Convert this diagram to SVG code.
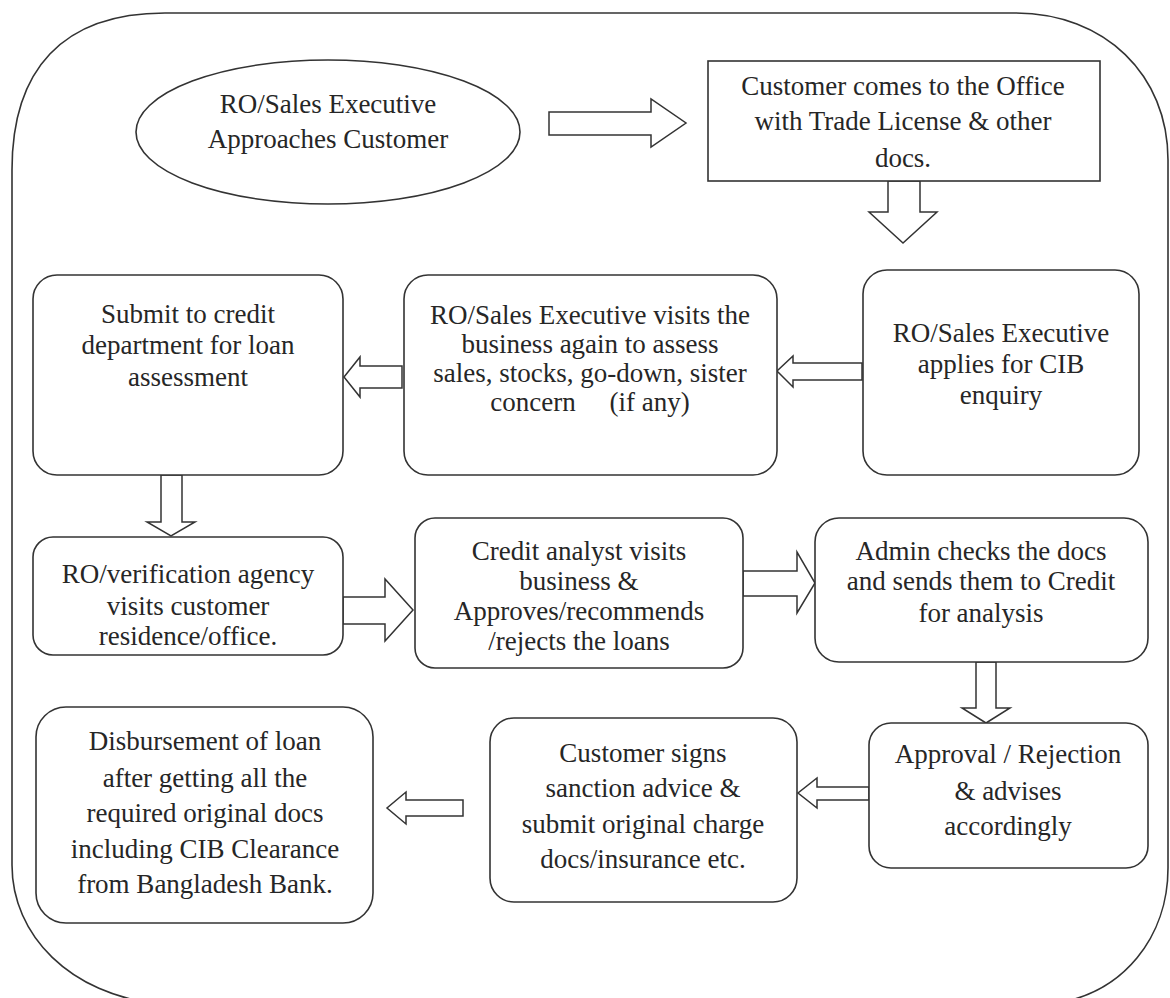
<svg xmlns="http://www.w3.org/2000/svg" width="1170" height="998" viewBox="0 0 1170 998">
<style>
.frame{fill:none;stroke:#333;stroke-width:1.6}
.box{fill:#fff;stroke:#333;stroke-width:1.6}
.arr{fill:#fff;stroke:#333;stroke-width:1.5;stroke-linejoin:miter}
text{font-family:"Liberation Serif","Times New Roman",serif;font-size:27px;fill:#262626;text-anchor:middle}
</style>
<rect width="1170" height="998" fill="#fff"/>
<path class="frame" d="M12,170 C12,70 62,13 165,13 L1015,13 C1105,13 1168,75 1168,160 L1168,868 C1168,935 1125,995 1050,1004 L160,1004 C70,995 12,935 12,865 Z"/>
<g id="connectors">
<polygon class="arr" points="549,112 651,112 651,99 686,123 651,147 651,135 549,135"/>
<polygon class="arr" points="888,181 920,181 920,212 937,212 903,243 869,212 888,212"/>
<polygon class="arr" points="862,363 793,363 793,356 777,371 793,387 793,380 862,380"/>
<polygon class="arr" points="402,366 360,366 360,357 344,377 360,397 360,388 402,388"/>
<polygon class="arr" points="161,475 182,475 182,522 195,522 171,536 147,522 161,522"/>
<polygon class="arr" points="343,597 385,597 385,579 413,610 385,641 385,624 343,624"/>
<polygon class="arr" points="743,571 797,571 797,552 815,583 797,613 797,596 743,596"/>
<polygon class="arr" points="976,662 996,662 996,708 1010,708 986,723 962,708 976,708"/>
<polygon class="arr" points="869,787 817,787 817,778 798,793 817,808 817,800 869,800"/>
<polygon class="arr" points="463,800 406,800 406,792 387,808 406,824 406,816 463,816"/>
</g>
<g id="n1">
<ellipse class="box" cx="328" cy="132" rx="192" ry="72"/>
<text x="328" y="113">RO/Sales Executive</text>
<text x="328" y="148">Approaches Customer</text>
</g>
<g id="n2">
<rect class="box" x="708" y="61" width="392" height="120"/>
<text x="903" y="95">Customer comes to the Office</text>
<text x="903" y="130">with Trade License &amp; other</text>
<text x="903" y="167">docs.</text>
</g>
<g id="n3">
<rect class="box" x="863" y="270" width="276" height="205" rx="24"/>
<text x="1001" y="342">RO/Sales Executive</text>
<text x="1001" y="373">applies for CIB</text>
<text x="1001" y="404">enquiry</text>
</g>
<g id="n4">
<rect class="box" x="404" y="275" width="373" height="200" rx="24"/>
<text x="590" y="324">RO/Sales Executive visits the</text>
<text x="590" y="353">business again to assess</text>
<text x="590" y="382">sales, stocks, go-down, sister</text>
<text x="590" y="411" xml:space="preserve">concern     (if any)</text>
</g>
<g id="n5">
<rect class="box" x="33" y="275" width="310" height="200" rx="24"/>
<text x="188" y="323">Submit to credit</text>
<text x="188" y="354">department for loan</text>
<text x="188" y="386">assessment</text>
</g>
<g id="n6">
<rect class="box" x="33" y="537" width="310" height="118" rx="20"/>
<text x="188" y="583">RO/verification agency</text>
<text x="188" y="615">visits customer</text>
<text x="188" y="645">residence/office.</text>
</g>
<g id="n7">
<rect class="box" x="415" y="518" width="328" height="150" rx="20"/>
<text x="579" y="560">Credit analyst visits</text>
<text x="579" y="590">business &amp;</text>
<text x="579" y="620">Approves/recommends</text>
<text x="579" y="650">/rejects the loans</text>
</g>
<g id="n8">
<rect class="box" x="815" y="518" width="333" height="144" rx="24"/>
<text x="981" y="560">Admin checks the docs</text>
<text x="981" y="590">and sends them to Credit</text>
<text x="981" y="622">for analysis</text>
</g>
<g id="n9">
<rect class="box" x="869" y="723" width="279" height="145" rx="22"/>
<text x="1008" y="763">Approval / Rejection</text>
<text x="1008" y="800">&amp; advises</text>
<text x="1008" y="835">accordingly</text>
</g>
<g id="n10">
<rect class="box" x="490" y="718" width="307" height="184" rx="24"/>
<text x="643" y="762">Customer signs</text>
<text x="643" y="797">sanction advice &amp;</text>
<text x="643" y="833">submit original charge</text>
<text x="643" y="868">docs/insurance etc.</text>
</g>
<g id="n11">
<rect class="box" x="36" y="707" width="337" height="216" rx="30"/>
<text x="205" y="750">Disbursement of loan</text>
<text x="205" y="787">after getting all the</text>
<text x="205" y="822">required original docs</text>
<text x="205" y="858">including CIB Clearance</text>
<text x="205" y="893">from Bangladesh Bank.</text>
</g>
</svg>
